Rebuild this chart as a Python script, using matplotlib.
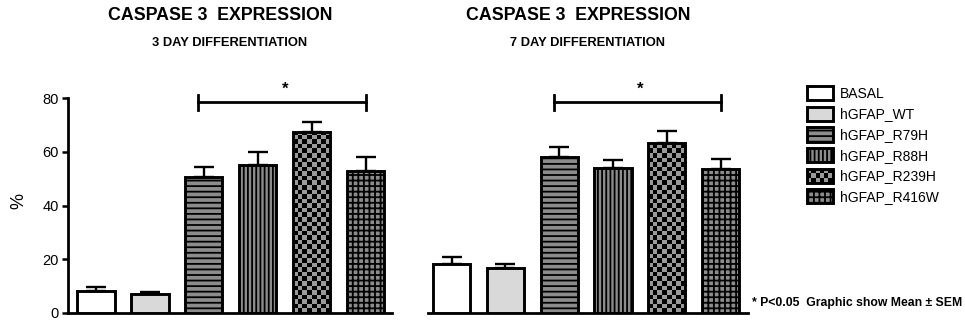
import numpy as np
import matplotlib
matplotlib.use('Agg')
import matplotlib.pyplot as plt
from matplotlib.patches import Patch, Rectangle
from matplotlib.legend_handler import HandlerBase

plt.rcParams['font.family'] = ['Liberation Sans', 'DejaVu Sans']
plt.rcParams['hatch.linewidth'] = 1.3

groups = ['BASAL', 'hGFAP_WT', 'hGFAP_R79H', 'hGFAP_R88H', 'hGFAP_R239H', 'hGFAP_R416W']
day3_mean = [8.2, 7.1, 50.6, 55.0, 67.3, 52.8]
day3_sem = [1.5, 0.7, 3.7, 4.9, 3.7, 5.2]
day7_mean = [18.2, 16.7, 58.0, 53.9, 63.2, 53.5]
day7_sem = [2.6, 1.5, 3.7, 3.0, 4.5, 3.7]
yticks = [0, 20, 40, 60, 80]

faces = ['white', '#d9d9d9', '#8c8c8c', '#8c8c8c', 'none', '#8c8c8c']
hatches = [None, None, '---', '||||', None, '+++']
CHECKER = 4
EDGE = 2.1


def draw_panel(ax, means, sems, title, subtitle, xlim):
    x = np.arange(len(means))
    bars = ax.bar(x, means, width=0.69, color=faces, edgecolor='black',
                  linewidth=EDGE, zorder=3)
    for b, h in zip(bars, hatches):
        if h:
            b.set_hatch(h)
    # checkerboard fill for the R239H bar
    b = bars[CHECKER]
    x0, w, hgt = b.get_x(), b.get_width(), b.get_height()
    ny = int(np.ceil(hgt / 1.7))
    nx = 8
    grid = np.indices((ny, nx)).sum(axis=0) % 2
    im = ax.imshow(grid, cmap=matplotlib.colors.ListedColormap(['#9a9a9a', 'black']),
                   extent=(x0, x0 + w, 0, ny * 1.7), origin='lower',
                   aspect='auto', interpolation='nearest', zorder=2)
    im.set_clip_path(b)
    ax.errorbar(x, means, yerr=[np.zeros(len(sems)), sems], fmt='none',
                ecolor='black', elinewidth=1.7, capsize=7, capthick=1.7, zorder=2.5)
    # significance bracket
    ax.plot([1.9, 5.0], [78.4, 78.4], color='black', lw=2.0, clip_on=False)
    for xb in (1.9, 5.0):
        ax.plot([xb, xb], [75.6, 81.2], color='black', lw=2.0, clip_on=False)
    ax.text(3.5, 80.5, '*', ha='center', va='bottom', fontsize=12, fontweight='bold')
    ax.set_xlim(*xlim)
    ax.set_ylim(0, 80)
    ax.set_xticks([])
    for s in ('top', 'right'):
        ax.spines[s].set_visible(False)
    ax.spines['bottom'].set_linewidth(2.0)
    ax.spines['left'].set_linewidth(2.0)
    ax.text(0.47, 1.385, title, transform=ax.transAxes, ha='center', va='center',
            fontsize=12.8, fontweight='bold')
    ax.text(0.5, 1.255, subtitle, transform=ax.transAxes, ha='center', va='center',
            fontsize=9.3, fontweight='bold')


class CheckerHandler(HandlerBase):
    def create_artists(self, legend, orig_handle, xdescent, ydescent, width, height, fontsize, trans):
        arts = []
        n, m = 6, 3
        cw, ch = width / n, height / m
        for i in range(n):
            for j in range(m):
                c = 'black' if (i + j) % 2 else '#9a9a9a'
                arts.append(Rectangle((-xdescent + i * cw, -ydescent + j * ch), cw, ch,
                                      facecolor=c, edgecolor='none', transform=trans))
        arts.append(Rectangle((-xdescent, -ydescent), width, height, facecolor='none',
                              edgecolor='black', lw=EDGE, transform=trans))
        return arts


fig = plt.figure(figsize=(9.65, 3.25), dpi=100)
ax1 = fig.add_axes([68 / 965, 12 / 325, 324 / 965, 215 / 325])
ax2 = fig.add_axes([428 / 965, 12 / 325, 320 / 965, 215 / 325])

draw_panel(ax1, day3_mean, day3_sem, 'CASPASE 3  EXPRESSION', '3 DAY DIFFERENTIATION', (-0.52, 5.49))
draw_panel(ax2, day7_mean, day7_sem, 'CASPASE 3  EXPRESSION', '7 DAY DIFFERENTIATION', (-0.44, 5.51))

ax1.set_yticks(yticks)
ax1.tick_params(axis='y', labelsize=10.5, length=4.5, width=1.8, pad=2)
ax1.set_ylabel('%', fontsize=13)
ax1.yaxis.set_label_coords(-0.125, 0.52)

ax2.spines['left'].set_visible(False)
ax2.set_yticks([])

handles = []
for f, h in zip(faces, hatches):
    handles.append(Patch(facecolor=f, edgecolor='black', hatch=h, linewidth=EDGE))
checker = Patch(facecolor='#9a9a9a', edgecolor='black')
handles[CHECKER] = checker
fig.legend(handles, groups, loc='upper left', bbox_to_anchor=(807 / 965, 1 - 86 / 325),
           frameon=False, fontsize=10, handlelength=1.85, handleheight=1.2,
           labelspacing=0.42, handletextpad=0.55, borderpad=0, borderaxespad=0,
           handler_map={checker: CheckerHandler()})

fig.text(752 / 965, 1 - 303 / 325, '* P<0.05  Graphic show Mean \u00b1 SEM', ha='left', va='center',
         fontsize=8.8, fontweight='bold')

fig.savefig('out.png', dpi=100)
